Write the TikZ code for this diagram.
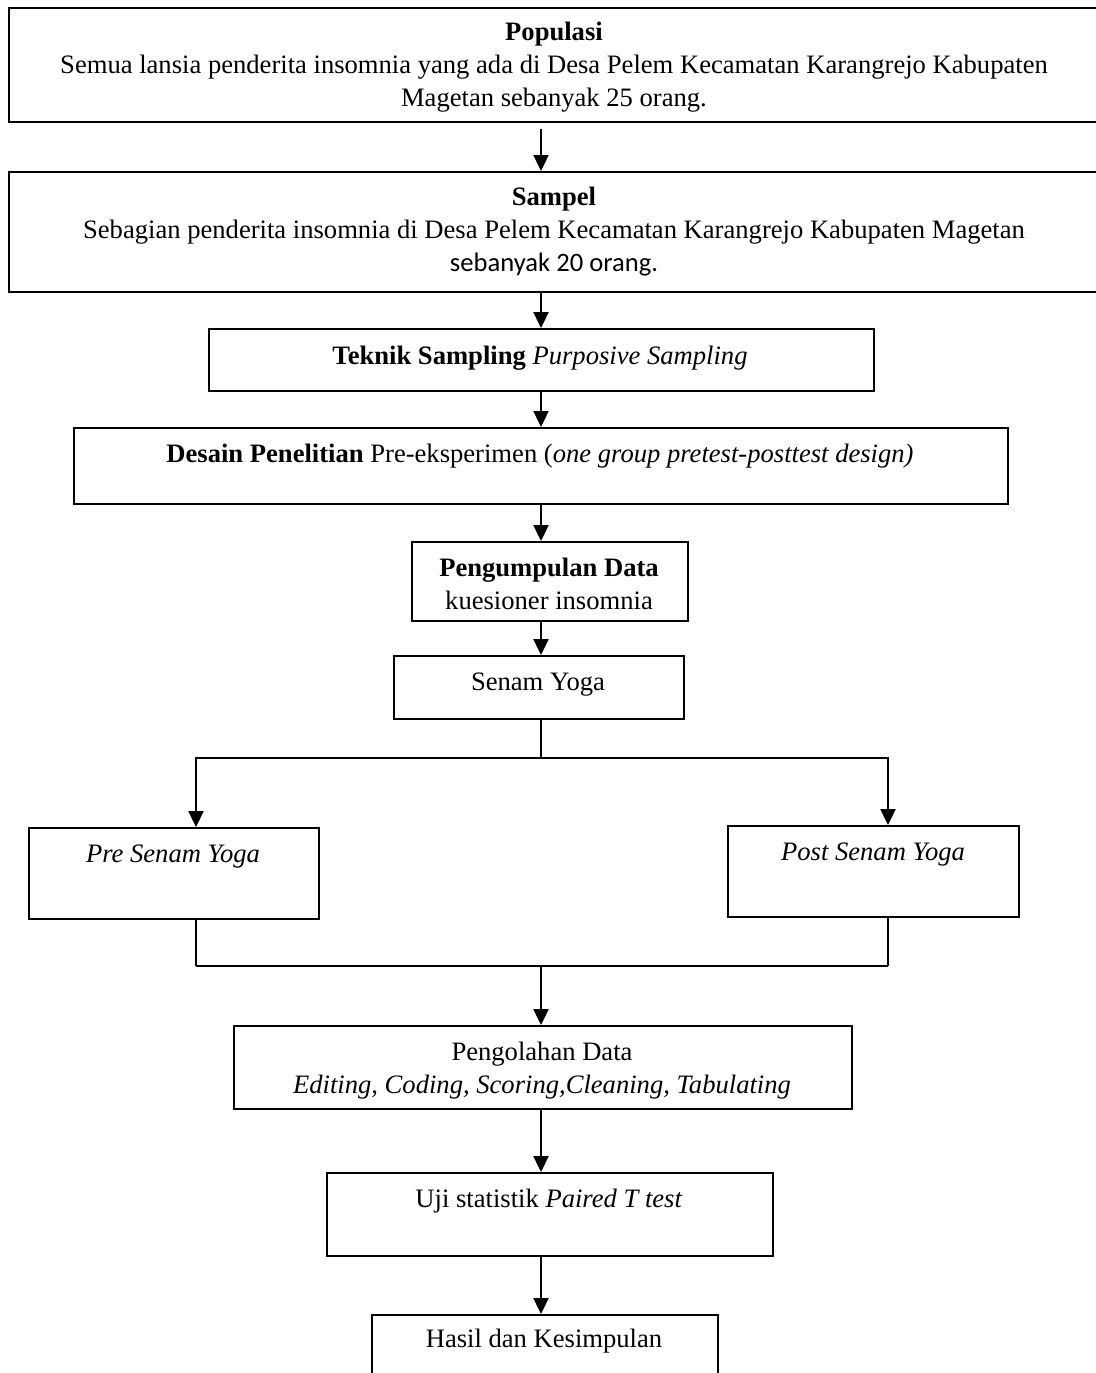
\documentclass[tikz,border=0pt]{standalone}
\usepackage{fontspec}
\setmainfont{Liberation Serif}
\newfontfamily\calibrifont{Carlito}
\usetikzlibrary{arrows.meta}
\begin{document}
\begin{tikzpicture}[x=0.5pt,y=-0.5pt,
  box/.style={draw=black, line width=1pt, rectangle, inner sep=0pt, anchor=north west},
  txt/.style={align=center, inner sep=0pt, font=\fontsize{13.3}{16.5}\selectfont},
  arr/.style={line width=1.15pt, -{Triangle[width=7.5pt,length=8pt]}},
  link/.style={line width=1.15pt},
  thinlink/.style={line width=0.6pt}
]
\useasboundingbox (0,0) rectangle (1096,1373);

% boxes
\node[box, minimum width=546pt,   minimum height=57pt]   (pop)   at (8,7)     {};
\node[box, minimum width=546pt,   minimum height=60pt]   (sam)   at (8,171)   {};
\node[box, minimum width=332.5pt, minimum height=31pt]   (tek)   at (208,328) {};
\node[box, minimum width=467pt,   minimum height=38pt]   (des)   at (73,427)  {};
\node[box, minimum width=138pt,   minimum height=39.5pt] (pen)   at (411,541) {};
\node[box, minimum width=145pt,   minimum height=31.5pt] (sen)   at (393,655) {};
\node[box, minimum width=145pt,   minimum height=45.5pt] (pre)   at (28,827)  {};
\node[box, minimum width=145.5pt, minimum height=45.5pt] (post)  at (727,825) {};
\node[box, minimum width=309pt,   minimum height=41.5pt] (olah)  at (233,1025){};
\node[box, minimum width=223pt,   minimum height=41.5pt] (uji)   at (326,1172){};
\node[box, minimum width=173pt,   minimum height=45pt]   (hasil) at (371,1314){};

% texts
\node[txt] (popT) at (554,67) {\textbf{Populasi}\\Semua lansia penderita insomnia yang ada di Desa Pelem Kecamatan Karangrejo Kabupaten\\Magetan sebanyak 25 orang.};
\node[txt] (samT) at (554,232) {\textbf{Sampel}\\Sebagian penderita insomnia di Desa Pelem Kecamatan Karangrejo Kabupaten Magetan\\{\calibrifont sebanyak 20 orang.}};
\node[txt] (tekT) at (540,358) {\textbf{Teknik Sampling} \textit{Purposive Sampling}};
\node[txt] (desT) at (540,456) {\textbf{Desain Penelitian} Pre-eksperimen (\textit{one group pretest-posttest design)}};
\node[txt] (penT) at (549,584) {\textbf{Pengumpulan Data}\\kuesioner insomnia};
\node[txt] (senT) at (538,685) {Senam Yoga};
\node[txt] (preT) at (173,857) {\textit{Pre Senam Yoga}};
\node[txt] (postT) at (873,855) {\textit{Post Senam Yoga}};
\node[txt] (olahT) at (542,1071) {Pengolahan Data\\\textit{Editing, Coding, Scoring,Cleaning, Tabulating}};
\node[txt] (ujiT) at (549,1201) {Uji statistik \textit{Paired T test}};
\node[txt] (hasilT) at (544,1341) {Hasil dan Kesimpulan};

% helper coordinates
\coordinate (ax) at (541,0);
\coordinate (lx) at (196,0);
\coordinate (rx) at (888,0);
\coordinate (split) at (541,758);
\coordinate (join) at (541,966);

% connectors
\draw[arr, shorten <=3pt] (pop.south -| ax) -- (sam.north -| ax);
\draw[arr] (sam.south -| ax) -- (tek.north -| ax);
\draw[arr] (tek.south -| ax) -- (des.north -| ax);
\draw[arr] (des.south -| ax) -- (pen.north -| ax);
\draw[arr] (pen.south -| ax) -- (sen.north -| ax);
\draw[thinlink] (sen.south -| ax) -- (split);
\draw[arr] (split) -| (pre.north -| lx);
\draw[arr] (split) -| (post.north -| rx);
\draw[thinlink] (pre.south -| lx) -- (join -| lx);
\draw[thinlink] (post.south -| rx) -- (join -| rx);
\draw[link] (join -| lx) -- (join -| rx);
\draw[arr] (join) -- (olah.north -| ax);
\draw[arr] (olah.south -| ax) -- (uji.north -| ax);
\draw[arr] (uji.south -| ax) -- (hasil.north -| ax);
\end{tikzpicture}
\end{document}
